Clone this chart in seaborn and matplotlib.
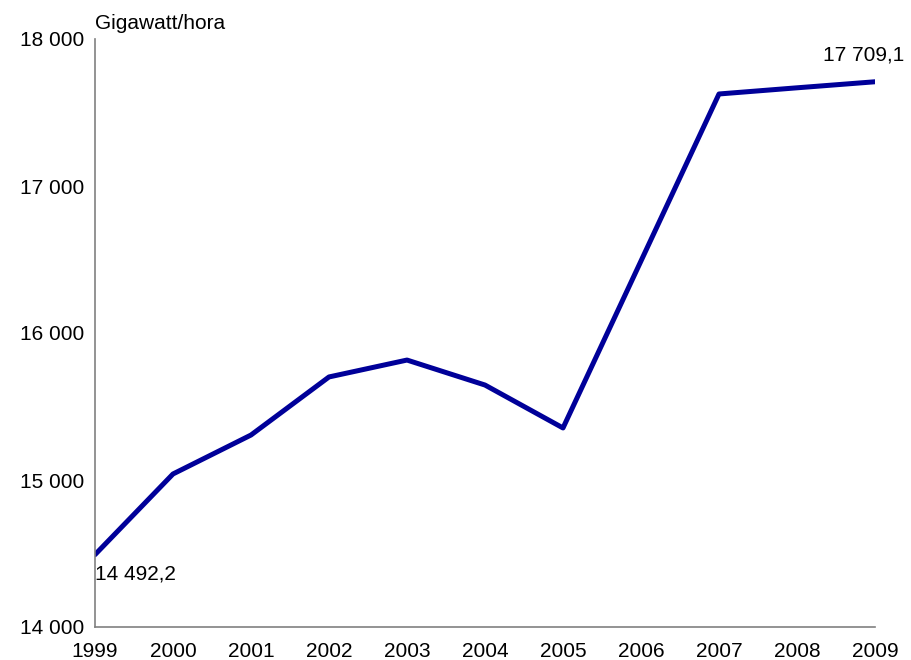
import matplotlib
matplotlib.use("Agg")
import matplotlib.pyplot as plt
import matplotlib.ticker as mticker
import seaborn as sns
import pandas as pd

# values (GWh)
years = [1999, 2000, 2001, 2002, 2003, 2004, 2005, 2006, 2007, 2008, 2009]
consumption = [14492.2, 15041, 15306, 15701, 15816, 15646, 15354, 16490, 17626, 17668, 17709.1]
unit_label = "Gigawatt/hora"
first_label = "14 492,2"
last_label = "17 709,1"

df = pd.DataFrame({"year": years, "gwh": consumption})

sns.set_style("white")
plt.rcParams['font.family'] = ['Liberation Sans', 'DejaVu Sans']
plt.rcParams['text.color'] = 'black'

fig = plt.figure(figsize=(9.12, 6.6), dpi=100)
ax = fig.add_axes([95 / 912, 33 / 660, 780 / 912, 588 / 660])

sns.lineplot(data=df, x="year", y="gwh", color="#000099", linewidth=3.6, ax=ax)

ax.set_xlim(1999, 2009)
ax.set_ylim(14000, 18000)
ax.set_xticks(years)
ax.set_yticks([14000, 15000, 16000, 17000, 18000])
ax.yaxis.set_major_formatter(mticker.FuncFormatter(lambda v, p: f"{int(v):,}".replace(",", " ")))
ax.tick_params(axis="both", length=0, labelsize=15, colors="black")
ax.tick_params(axis="y", pad=8)
ax.tick_params(axis="x", pad=11)
ax.set_xlabel("")
ax.set_ylabel("")

for side in ["top", "right"]:
    ax.spines[side].set_visible(False)
for side in ["left", "bottom"]:
    ax.spines[side].set_color("#808080")
    ax.spines[side].set_linewidth(1.2)

ax.text(0, 1.01, unit_label, transform=ax.transAxes, ha="left", va="bottom", fontsize=15, color="black")
ax.annotate(first_label, xy=(years[0], consumption[0]), xytext=(0, -14), textcoords="offset points",
            ha="left", va="center", fontsize=15, color="black")
ax.annotate(last_label, xy=(years[-1], consumption[-1]), xytext=(21, 19), textcoords="offset points",
            ha="right", va="center", fontsize=15, color="black", annotation_clip=False)

fig.savefig("out.png", dpi=100)
